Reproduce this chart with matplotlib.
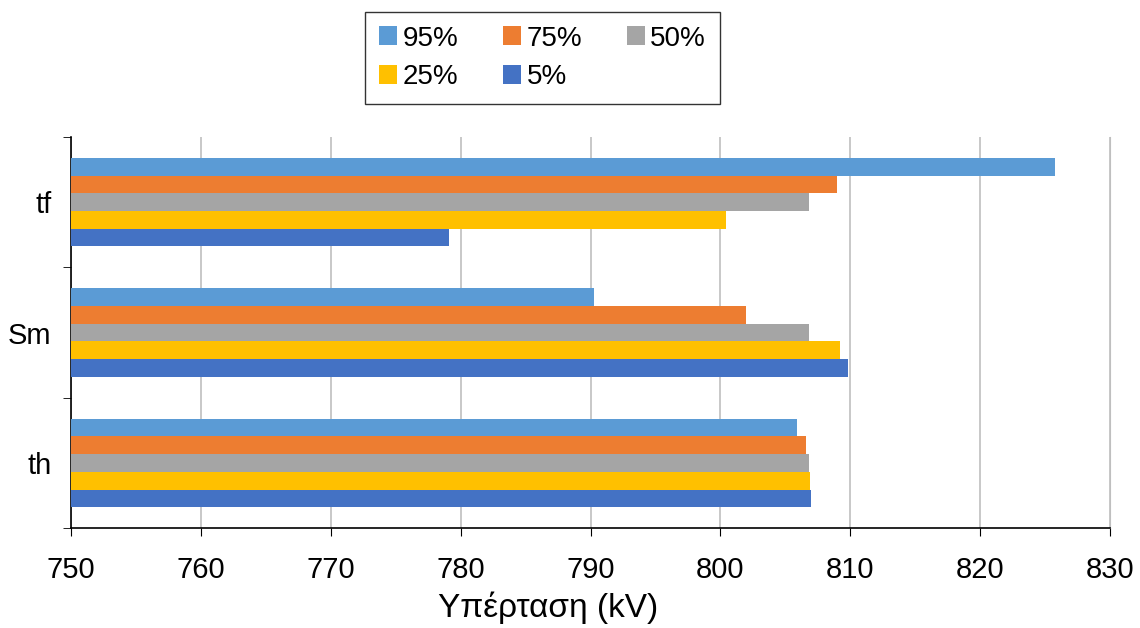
import numpy as np
import matplotlib
matplotlib.use('Agg')
import matplotlib.pyplot as plt

plt.rcParams['font.family'] = ['Liberation Sans', 'DejaVu Sans']

# data
categories = ['th', 'Sm', 'tf']
series = ['95%', '75%', '50%', '25%', '5%']
colors = ['#5B9BD5', '#ED7D31', '#A5A5A5', '#FFC000', '#4472C4']
v95 = [805.9, 790.3, 825.8]
v75 = [806.6, 802.0, 809.0]
v50 = [806.8, 806.8, 806.8]
v25 = [806.9, 809.2, 800.4]
v5 = [807.0, 809.8, 779.1]
values = [v95, v75, v50, v25, v5]
x_ticks = [750, 760, 770, 780, 790, 800, 810, 820, 830]

fig = plt.figure(figsize=(11.4, 6.28), dpi=100)
ax = fig.add_axes([0.0623, 0.159, 0.9114, 0.623])

y = np.arange(len(categories))
h = 0.136
handles = []
for i, (name, col, vals) in enumerate(zip(series, colors, values)):
    off = (2 - i) * h
    vals = np.array(vals)
    b = ax.barh(y + off, vals - 750, left=750, height=h, color=col,
                linewidth=0, label=name, zorder=3)
    handles.append(b)

ax.set_xlim(750, 830)
ax.set_ylim(-0.5, 2.5)
ax.set_xticks(x_ticks)
ax.tick_params(axis='x', labelsize=21, length=6, direction='out', pad=14)
ax.set_yticks(y)
ax.set_yticklabels(categories)
ax.tick_params(axis='y', which='major', length=0, labelsize=21, pad=14)
ax.set_yticks(np.arange(-0.5, 3.0, 1.0), minor=True)
ax.tick_params(axis='y', which='minor', length=6, direction='out')
ax.grid(axis='x', color='#BFBFBF', linewidth=1.2, zorder=0)
ax.spines['top'].set_visible(False)
ax.spines['right'].set_color('#BFBFBF')
ax.spines['left'].set_linewidth(1.2)
ax.spines['bottom'].set_linewidth(1.2)
ax.set_xlabel('Υπέρταση (kV)', fontsize=24)
ax.xaxis.set_label_coords(0.459, -0.162)

order = [0, 3, 1, 4, 2]
leg = fig.legend([handles[k] for k in order], [series[k] for k in order],
                 ncol=3, loc='center', bbox_to_anchor=(0.476, 0.908),
                 fontsize=20, frameon=True, fancybox=False, edgecolor='black',
                 handlelength=0.65, handleheight=0.65, handletextpad=0.2,
                 columnspacing=1.6, borderpad=0.5, labelspacing=0.45,
                 borderaxespad=0)
leg.get_frame().set_linewidth(1.0)

fig.savefig('out.png', dpi=100)
